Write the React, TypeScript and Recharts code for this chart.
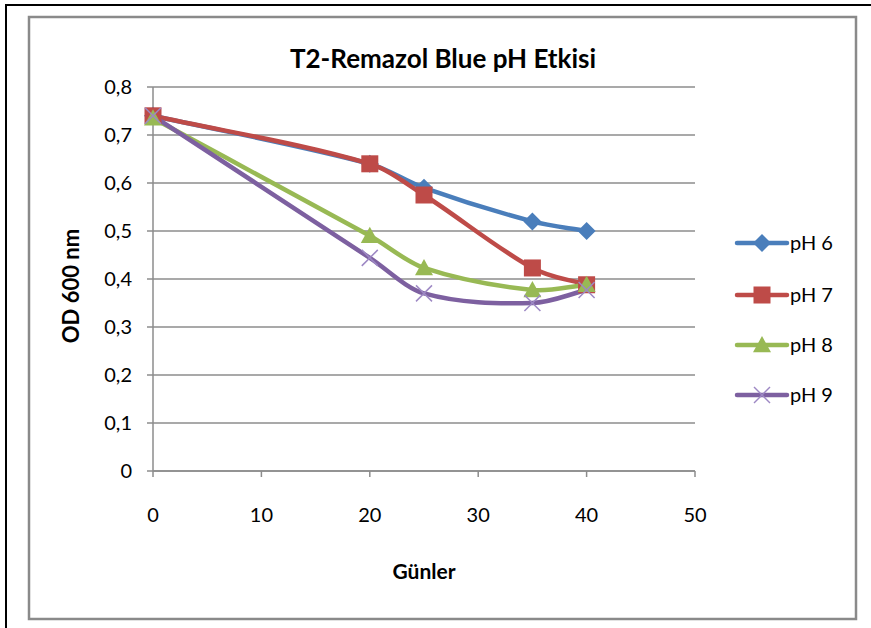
import React from "react";
import { LineChart, Line, XAxis, YAxis, CartesianGrid } from "recharts";

// Sampling days (Günler)
const days = [0, 20, 25, 35, 40];

// OD 600 nm readings per pH
const ph6 = [0.74, 0.64, 0.59, 0.52, 0.5];
const ph7 = [0.74, 0.64, 0.575, 0.423, 0.388];
const ph8 = [0.735, 0.49, 0.423, 0.377, 0.388];
const ph9 = [0.74, 0.444, 0.37, 0.35, 0.377];

const xTicks = [0, 10, 20, 30, 40, 50];
const yTicks = [0, 0.1, 0.2, 0.3, 0.4, 0.5, 0.6, 0.7, 0.8];

const seriesNames = ["pH 6", "pH 7", "pH 8", "pH 9"];
const seriesColors = ["#4A7EBB", "#BE4B48", "#98B954", "#7D60A0"];
const seriesKeys = ["ph6", "ph7", "ph8", "ph9"];

const data = days.map((d, i) => ({
  day: d,
  ph6: ph6[i],
  ph7: ph7[i],
  ph8: ph8[i],
  ph9: ph9[i],
}));

const FONT = "Lato, 'Open Sans', sans-serif";

// Smooth bezier curve with tangents scaled to the x-spacing of each segment
function smoothCurve(context: any) {
  let pts: [number, number][] = [];
  const tangent = (i: number): [number, number] => {
    const a = pts[Math.max(i - 1, 0)];
    const b = pts[Math.min(i + 1, pts.length - 1)];
    const dx = b[0] - a[0] || 1;
    return [1, (b[1] - a[1]) / dx];
  };
  return {
    areaStart() {},
    areaEnd() {},
    lineStart() {
      pts = [];
    },
    point(x: number, y: number) {
      pts.push([+x, +y]);
    },
    lineEnd() {
      if (!pts.length) return;
      context.moveTo(pts[0][0], pts[0][1]);
      for (let i = 0; i < pts.length - 1; i++) {
        const p1 = pts[i];
        const p2 = pts[i + 1];
        const h = (p2[0] - p1[0]) / 3;
        const t1 = tangent(i);
        const t2 = tangent(i + 1);
        context.bezierCurveTo(p1[0] + h, p1[1] + t1[1] * h, p2[0] - h, p2[1] - t2[1] * h, p2[0], p2[1]);
      }
    },
  };
}

type Shape = "diamond" | "square" | "triangle" | "cross";
const shapes: Shape[] = ["diamond", "square", "triangle", "cross"];

function Marker({ cx, cy, shape, color }: { cx: number; cy: number; shape: Shape; color: string }) {
  if (cx == null || cy == null) return null;
  if (shape === "diamond") {
    const r = 9;
    return <polygon points={`${cx},${cy - r} ${cx + r},${cy} ${cx},${cy + r} ${cx - r},${cy}`} fill={color} />;
  }
  if (shape === "square") {
    const s = 17;
    return <rect x={cx - s / 2} y={cy - s / 2} width={s} height={s} fill={color} />;
  }
  if (shape === "triangle") {
    const r = 9;
    return <polygon points={`${cx},${cy - r} ${cx + r},${cy + r * 0.8} ${cx - r},${cy + r * 0.8}`} fill={color} />;
  }
  const r = 8;
  return (
    <g stroke="#9d88c4" strokeWidth={1.5}>
      <line x1={cx - r} y1={cy - r} x2={cx + r} y2={cy + r} />
      <line x1={cx - r} y1={cy + r} x2={cx + r} y2={cy - r} />
    </g>
  );
}

const fmt = (v: number) => (v === 0 ? "0" : v.toFixed(1).replace(".", ","));

export default function App() {
  const legendY = [243, 295, 345, 395];
  return (
    <div style={{ position: "absolute", left: 0, top: 0, width: 871, height: 628, background: "#fff", overflow: "hidden" }}>
      <svg width={871} height={628} style={{ position: "absolute", left: 0, top: 0 }}>
        <rect x={6} y={5} width={900} height={700} fill="none" stroke="#000" strokeWidth={2} />
        <rect x={29} y={17} width={827} height={602} fill="#fff" stroke="#8a8a8a" strokeWidth={2.5} />
        <text x={443} y={68} textAnchor="middle" fontFamily={FONT} fontWeight={700} fontSize={26} fill="#000">
          T2-Remazol Blue pH Etkisi
        </text>
        <text
          x={0}
          y={0}
          transform="translate(79,286) rotate(-90)"
          textAnchor="middle"
          fontFamily={FONT}
          fontWeight={700}
          fontSize={22}
          fill="#000"
        >
          OD 600 nm
        </text>
        <text x={424} y={579} textAnchor="middle" fontFamily={FONT} fontWeight={700} fontSize={21} fill="#000">
          Günler
        </text>
        {seriesNames.map((n, i) => (
          <g key={n}>
            <line x1={737} x2={787} y1={legendY[i]} y2={legendY[i]} stroke={seriesColors[i]} strokeWidth={4.5} strokeLinecap="round" />
            <Marker cx={762} cy={legendY[i]} shape={shapes[i]} color={seriesColors[i]} />
            <text x={790} y={legendY[i] + 7} fontFamily={FONT} fontSize={20} fill="#000">
              {n}
            </text>
          </g>
        ))}
      </svg>
      <div style={{ position: "absolute", left: 0, top: 0 }}>
        <LineChart width={871} height={628} data={data} margin={{ top: 87, left: 0, right: 176, bottom: 0 }}>
          <CartesianGrid vertical={false} stroke="#8c8c8c" strokeWidth={1.5} />
          <XAxis
            dataKey="day"
            type="number"
            domain={[0, 50]}
            ticks={xTicks}
            height={157}
            tickSize={6}
            tickMargin={31}
            stroke="#8c8c8c"
            strokeWidth={1.5}
            tick={{ fill: "#000", fontFamily: FONT, fontSize: 20 }}
            interval={0}
          />
          <YAxis
            type="number"
            domain={[0, 0.8]}
            ticks={yTicks}
            width={153}
            tickSize={6}
            tickMargin={15}
            tickFormatter={fmt}
            stroke="#8c8c8c"
            strokeWidth={1.5}
            tick={{ fill: "#000", fontFamily: FONT, fontSize: 20 }}
            interval={0}
          />
          {seriesKeys.map((k, i) => (
            <Line
              key={k}
              dataKey={k}
              name={seriesNames[i]}
              type={smoothCurve as any}
              stroke={seriesColors[i]}
              strokeWidth={4.5}
              isAnimationActive={false}
              dot={(p: any) => <Marker key={`${k}-${p.index}`} cx={p.cx} cy={p.cy} shape={shapes[i]} color={seriesColors[i]} />}
              activeDot={false}
            />
          ))}
        </LineChart>
      </div>
    </div>
  );
}
